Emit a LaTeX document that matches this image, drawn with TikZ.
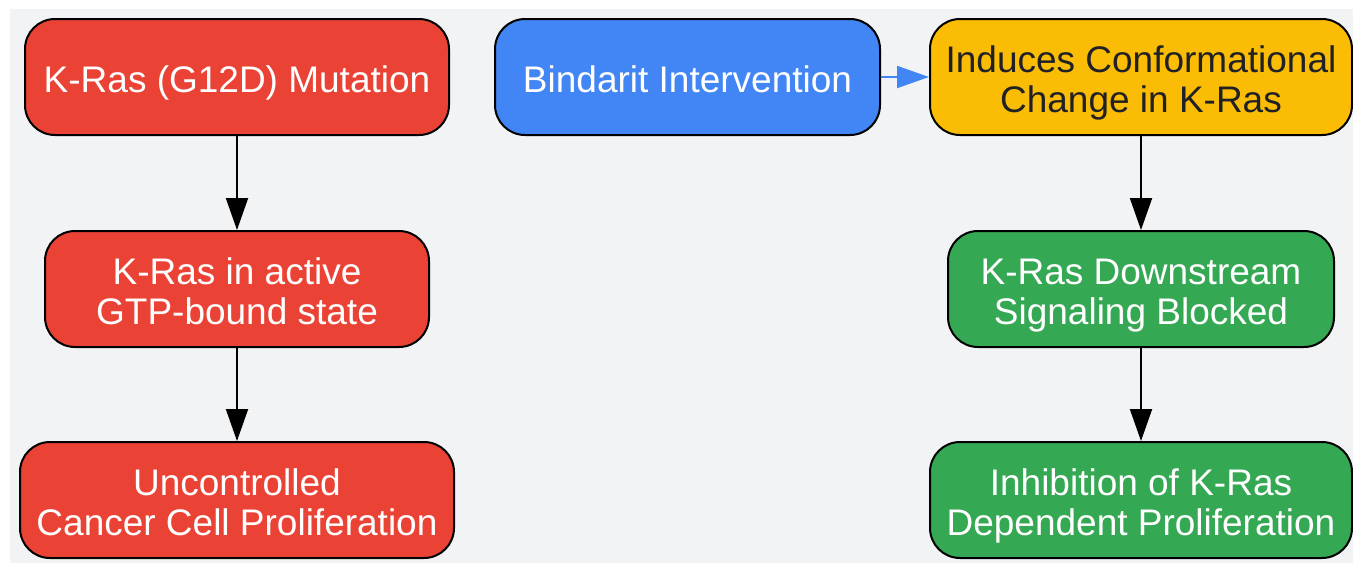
\documentclass[tikz,border=0pt]{standalone}
\usepackage{fontspec}
\setmainfont{Liberation Sans}
\usetikzlibrary{arrows.meta}
\definecolor{bgray}{HTML}{F1F3F4}
\definecolor{kred}{HTML}{EA4335}
\definecolor{kblue}{HTML}{4285F4}
\definecolor{kyellow}{HTML}{FBBC05}
\definecolor{kgreen}{HTML}{34A853}
\definecolor{kdark}{HTML}{202124}
\newcommand\topstrut{\rule{0pt}{38pt}}
\newcommand\botstrut{\rule[-7pt]{0pt}{7pt}}
\tikzset{my box/.style={draw, line width=2pt, rounded corners=30pt, minimum height=116pt, align=center, text=white, font=\fontsize{37}{40}\selectfont},
my arrow/.style={line width=2pt, -{Triangle[length=32pt,width=22pt]}},}

\begin{document}
\begin{tikzpicture}[x=1pt,y=-1pt]
\useasboundingbox (0,0) rectangle (1353,563);
\fill [bgray] (10,9) rectangle (1353,563);
\node [my box,fill=kred,minimum width=424pt] (mut) at (237,77) {\topstrut K-Ras (G12D) Mutation\botstrut};
\node [my box,fill=kred,minimum width=384pt] (gtp) at (237,289) {\topstrut K-Ras in active\\GTP-bound state\botstrut};
\node [my box,fill=kred,minimum width=434pt] (prolif) at (237,500) {\topstrut Uncontrolled\\Cancer Cell Proliferation\botstrut};
\node [my box,fill=kblue,minimum width=385pt] (bind) at (687.5,77) {\topstrut Bindarit Intervention\botstrut};
\node [my box,fill=kyellow,text=kdark,minimum width=422pt] (conf) at (1141,77) {\topstrut Induces Conformational\\Change in K-Ras\botstrut};
\node [my box,fill=kgreen,minimum width=386pt] (block) at (1141,289) {\topstrut K-Ras Downstream\\Signaling Blocked\botstrut};
\node [my box,fill=kgreen,minimum width=422pt] (inhib) at (1141,500) {\topstrut Inhibition of K-Ras\\Dependent Proliferation\botstrut};
\draw [my arrow] (mut) -- (gtp);
\draw [my arrow] (gtp) -- (prolif);
\draw [my arrow,kblue] (bind) -- (conf);
\draw [my arrow] (conf) -- (block);
\draw [my arrow] (block) -- (inhib);
\end{tikzpicture}
\end{document}
